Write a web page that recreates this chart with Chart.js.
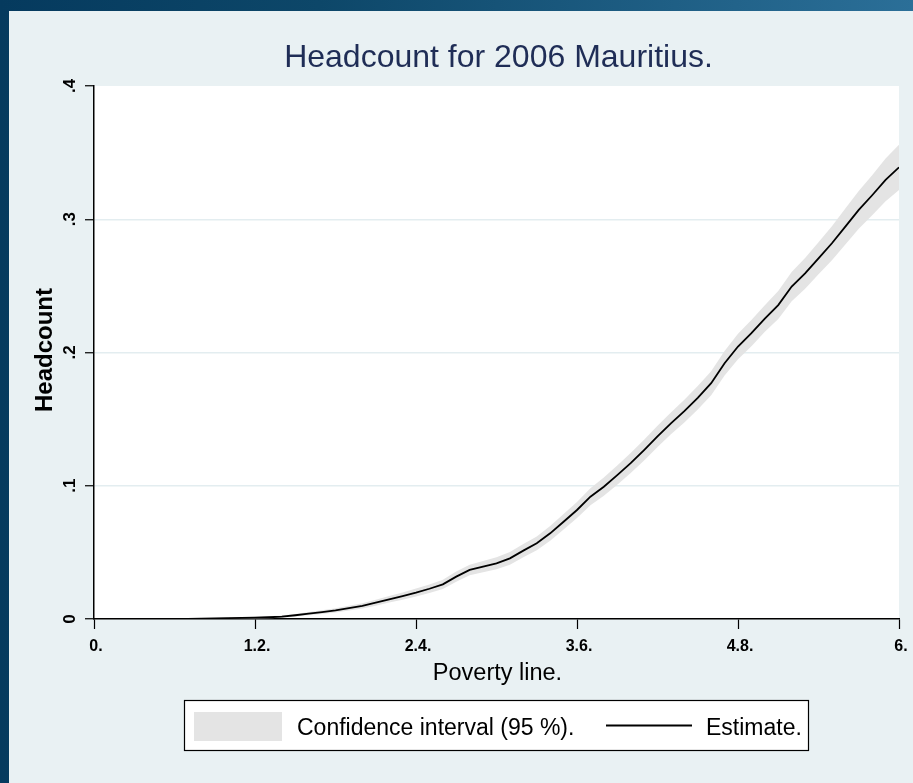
<!DOCTYPE html>
<html>
<head>
<meta charset="utf-8">
<script src="https://cdn.jsdelivr.net/npm/chart.js@4/dist/chart.umd.min.js"></script>
<style>
  html, body { margin: 0; padding: 0; }
  body {
    width: 913px; height: 783px; overflow: hidden; position: relative;
    background: linear-gradient(90deg, #053a5e 0%, #0d4769 35%, #2b6f98 100%);
  }
  #panel { position: absolute; left: 9px; top: 11px; right: 0; bottom: 0; background: #e9f1f3; }
  #chart { position: absolute; left: 0; top: 0; }
</style>
</head>
<body>
<div id="panel"></div>
<canvas id="chart" width="913" height="783"></canvas>
<script>
const titleText = "Headcount for 2006 Mauritius."
const xTitle = "Poverty line."
const yTitle = "Headcount"
const legendLabels = ["Confidence interval (95 %).", "Estimate."]

const xTickValues = [0, 1.2, 2.4, 3.6, 4.8, 6]
const xTickLabels = ["0.", "1.2.", "2.4.", "3.6.", "4.8.", "6."]
const yTickValues = [0, 0.1, 0.2, 0.3, 0.4]
const yTickLabels = ["0", ".1", ".2", ".3", ".4"]

// poverty line grid (step 0.1)
const povertyLine = [0, 0.1, 0.2, 0.3, 0.4, 0.5, 0.6, 0.7, 0.8, 0.9, 1.0, 1.1, 1.2, 1.3, 1.4, 1.5, 1.6, 1.7, 1.8, 1.9,
  2.0, 2.1, 2.2, 2.3, 2.4, 2.5, 2.6, 2.7, 2.8, 2.9, 3.0, 3.1, 3.2, 3.3, 3.4, 3.5, 3.6, 3.7, 3.8, 3.9,
  4.0, 4.1, 4.2, 4.3, 4.4, 4.5, 4.6, 4.7, 4.8, 4.9, 5.0, 5.1, 5.2, 5.3, 5.4, 5.5, 5.6, 5.7, 5.8, 5.9, 6.0]
const estimate = [0, 0, 0, 0, 0, 0, 0, 0.0001, 0.0003, 0.0005, 0.0007, 0.0008, 0.001, 0.0013, 0.0018, 0.0028, 0.004, 0.0052, 0.0065, 0.0082,
  0.0098, 0.0122, 0.0148, 0.0172, 0.0198, 0.0227, 0.026, 0.0318, 0.0368, 0.0393, 0.0418, 0.0455, 0.0513, 0.0568, 0.0643, 0.073, 0.0818, 0.0918, 0.0993, 0.108,
  0.117, 0.1268, 0.137, 0.1468, 0.156, 0.166, 0.177, 0.1919, 0.2045, 0.2145, 0.2255, 0.2356, 0.2495, 0.2594, 0.2707, 0.282, 0.2945, 0.307, 0.318, 0.3295, 0.339]
const ciLower = [0, 0, 0, 0, 0, 0, 0, 0, 0.0001, 0.0002, 0.0003, 0.0003, 0.0004, 0.0006, 0.001, 0.0018, 0.0028, 0.0038, 0.0049, 0.0064,
  0.0078, 0.01, 0.0123, 0.0145, 0.0168, 0.0195, 0.0225, 0.028, 0.0328, 0.0351, 0.0373, 0.0407, 0.0463, 0.0516, 0.0588, 0.0672, 0.0758, 0.0854, 0.0925, 0.1008,
  0.1095, 0.119, 0.129, 0.1386, 0.1475, 0.1572, 0.168, 0.1827, 0.195, 0.2047, 0.2155, 0.2251, 0.2385, 0.2479, 0.2587, 0.2692, 0.281, 0.2928, 0.303, 0.3135, 0.322]
const ciUpper = [0, 0, 0, 0, 0, 0, 0, 0.0002, 0.0005, 0.0008, 0.0011, 0.0013, 0.0016, 0.002, 0.0026, 0.0038, 0.0052, 0.0066, 0.0081, 0.01,
  0.0118, 0.0144, 0.0173, 0.0199, 0.0228, 0.0259, 0.0295, 0.0356, 0.0408, 0.0435, 0.0463, 0.0503, 0.0563, 0.062, 0.0698, 0.0788, 0.0878, 0.0982, 0.1061, 0.1152,
  0.1245, 0.1346, 0.145, 0.155, 0.1645, 0.1748, 0.186, 0.2011, 0.214, 0.2243, 0.2355, 0.2461, 0.2605, 0.2709, 0.2827, 0.2948, 0.308, 0.3212, 0.333, 0.3455, 0.356]

const FONT = '"Liberation Sans", Arial, sans-serif'
const BAND = "#e4e4e4"
const toPoints = (ys) => povertyLine.map((x, i) => ({ x, y: ys[i] }))

const decorations = {
  id: "decorations",
  beforeDraw(chart) {
    const { ctx, chartArea: a } = chart
    ctx.save()
    ctx.fillStyle = "#ffffff"
    ctx.fillRect(a.left, a.top, a.right - a.left, a.bottom - a.top)
    ctx.restore()
  },
  afterDraw(chart) {
    const { ctx, chartArea: a, scales } = chart
    const midX = (a.left + a.right) / 2
    ctx.save()

    // title
    ctx.fillStyle = "#1f2d56"
    ctx.font = `32px ${FONT}`
    ctx.textAlign = "center"
    ctx.textBaseline = "alphabetic"
    ctx.fillText(titleText, midX + 2, 67)

    // x tick labels
    ctx.fillStyle = "#000"
    ctx.font = `bold 16px ${FONT}`
    xTickValues.forEach((v, i) => {
      ctx.fillText(xTickLabels[i], scales.x.getPixelForValue(v) + 2, 651)
    })

    // y tick labels, rotated
    ctx.font = `bold 17px ${FONT}`
    yTickValues.forEach((v, i) => {
      ctx.save()
      ctx.translate(75, scales.y.getPixelForValue(v))
      ctx.rotate(-Math.PI / 2)
      ctx.fillText(yTickLabels[i], 0, 0)
      ctx.restore()
    })

    // axis titles
    ctx.font = `23.5px ${FONT}`
    ctx.fillText(xTitle, midX + 1, 680)
    ctx.save()
    ctx.translate(52, 350)
    ctx.rotate(-Math.PI / 2)
    ctx.font = `bold 24px ${FONT}`
    ctx.fillText(yTitle, 0, 0)
    ctx.restore()

    // legend
    ctx.fillStyle = "#fff"
    ctx.fillRect(184, 700, 625, 51)
    ctx.strokeStyle = "#000"
    ctx.lineWidth = 1.2
    ctx.strokeRect(184.5, 700.5, 624, 50)
    ctx.fillStyle = BAND
    ctx.fillRect(194, 712, 88, 29)
    ctx.beginPath()
    ctx.moveTo(606, 725.5)
    ctx.lineTo(692, 725.5)
    ctx.lineWidth = 1.8
    ctx.stroke()
    ctx.fillStyle = "#000"
    ctx.font = `23px ${FONT}`
    ctx.textAlign = "left"
    ctx.fillText(legendLabels[0], 297, 735)
    ctx.fillText(legendLabels[1], 706, 735)

    ctx.restore()
  }
}

new Chart(document.getElementById("chart"), {
  type: "line",
  data: {
    datasets: [
      { label: legendLabels[1], data: toPoints(estimate), borderColor: "#000", borderWidth: 1.8,
        pointRadius: 0, fill: false, tension: 0 },
      { label: "lower", data: toPoints(ciLower), borderWidth: 0, borderColor: BAND,
        pointRadius: 0, fill: false, tension: 0 },
      { label: legendLabels[0], data: toPoints(ciUpper), borderWidth: 0, borderColor: BAND,
        backgroundColor: BAND, pointRadius: 0, fill: "-1", tension: 0 },
    ],
  },
  options: {
    responsive: false,
    animation: false,
    events: [],
    layout: { padding: { left: 0, right: 14, top: 86, bottom: 0 } },
    plugins: { legend: { display: false }, tooltip: { enabled: false }, title: { display: false } },
    scales: {
      x: {
        type: "linear", min: 0, max: 6,
        afterBuildTicks: (s) => { s.ticks = xTickValues.map(value => ({ value })) },
        ticks: { display: false },
        grid: { drawOnChartArea: false, drawTicks: true, tickLength: 10, tickColor: "#000", tickWidth: 1.2 },
        border: { display: true, color: "#000", width: 1.5 },
        afterFit: (s) => { s.height = 164 },
      },
      y: {
        type: "linear", min: 0, max: 0.4,
        afterBuildTicks: (s) => { s.ticks = yTickValues.map(value => ({ value })) },
        ticks: { display: false },
        grid: {
          drawTicks: true, tickLength: 9, tickColor: "#000", tickWidth: 1.2, lineWidth: 1.5,
          color: (c) => (c.tick && (c.tick.value === 0 || c.tick.value === 0.4)) ? "rgba(0,0,0,0)" : "#e3edf0",
        },
        border: { display: true, color: "#000", width: 1.5 },
        afterFit: (s) => { s.width = 94 },
      },
    },
  },
  plugins: [decorations],
})
</script>
</body>
</html>
